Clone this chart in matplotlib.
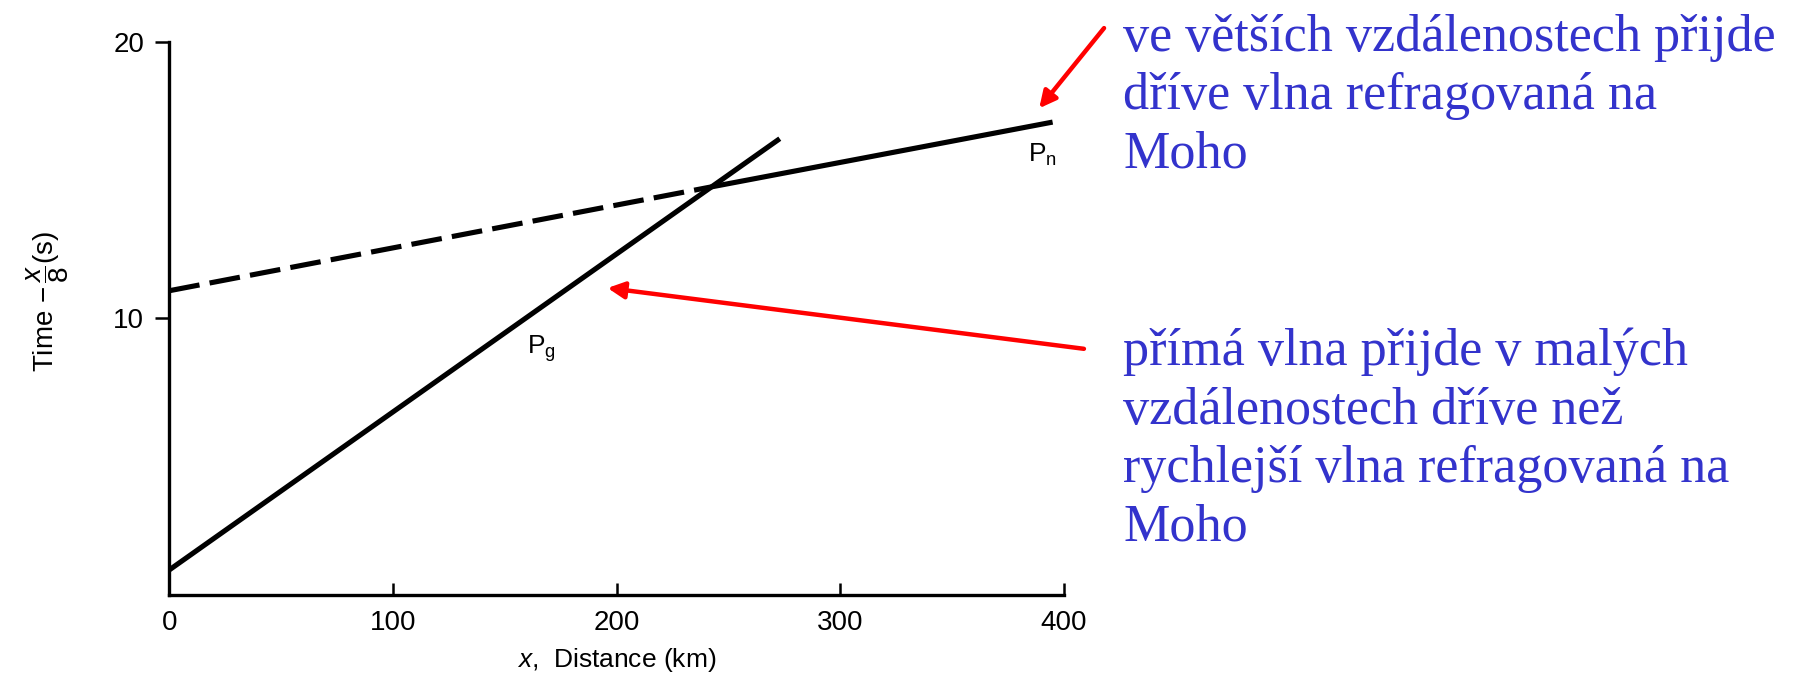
import matplotlib
matplotlib.use('Agg')
import matplotlib.pyplot as plt

# reduced travel time (t - x/8) against distance
pg_x = [0, 273]
pg_t = [0.9, 16.5]

# head wave along the Moho: dashed before the crossover, solid after
pn_x = [0, 242, 395]
pn_t = [11.0, 14.75, 17.1]

x_ticks = [0, 100, 200, 300, 400]
y_ticks = [10, 20]

note_far = 've větších vzdálenostech přijde\ndříve vlna refragovaná na\nMoho'
note_near = ('přímá vlna přijde v malých\nvzdálenostech dříve než\n'
             'rychlejší vlna refragovaná na\nMoho')

plt.rcParams['font.family'] = ['Liberation Sans', 'DejaVu Sans']
plt.rcParams['mathtext.fontset'] = 'custom'
plt.rcParams['mathtext.rm'] = 'Liberation Sans'
plt.rcParams['mathtext.it'] = 'Liberation Sans:italic'

fig = plt.figure(figsize=(18, 6.76), dpi=100)
ax = fig.add_axes([0.094, 0.12, 0.497, 0.818])

ax.plot(pg_x, pg_t, color='black', lw=3.7, solid_capstyle='butt')
ax.plot(pn_x[:2], pn_t[:2], color='black', lw=3.7, dashes=(6, 2))
ax.plot(pn_x[1:], pn_t[1:], color='black', lw=3.7, solid_capstyle='butt')

ax.text(384, 15.9, r'P$_{\rm n}$', fontsize=19, ha='left', va='center')
ax.text(160, 8.9, r'P$_{\rm g}$', fontsize=19, ha='left', va='center')

ax.set_xlim(0, 400)
ax.set_ylim(0, 20)
ax.set_xticks(x_ticks)
ax.set_yticks(y_ticks)
ax.spines['top'].set_visible(False)
ax.spines['right'].set_visible(False)
ax.spines['left'].set_linewidth(2.4)
ax.spines['bottom'].set_linewidth(2.4)
ax.tick_params(axis='y', direction='out', length=10, width=1.8, labelsize=20, pad=8)
ax.tick_params(axis='x', direction='in', length=9, width=1.8, labelsize=20, pad=11)

ax.set_xlabel(r'$x$,  Distance (km)', fontsize=19, labelpad=7)
ax.set_ylabel(r'Time $-\,\dfrac{x}{8}$(s)', fontsize=20)
ax.yaxis.set_label_coords(-0.11, 0.53)

arrow = dict(arrowstyle='-|>,head_length=1.0,head_width=0.5', color='#ff0000',
             lw=3.2, shrinkA=0, shrinkB=0)
ax.annotate('', xy=(389, 17.6), xytext=(418, 20.5), arrowprops=arrow,
            annotation_clip=False)
ax.annotate('', xy=(196, 11.1), xytext=(409, 8.9), arrowprops=arrow,
            annotation_clip=False)

blue = '#3333cc'
fig.text(0.624, 0.98, note_far, fontsize=37.5, color=blue, va='top', ha='left',
         family='Liberation Serif', linespacing=1.28)
fig.text(0.624, 0.515, note_near, fontsize=37.5, color=blue, va='top', ha='left',
         family='Liberation Serif', linespacing=1.28)

fig.savefig('out.png', dpi=100)
